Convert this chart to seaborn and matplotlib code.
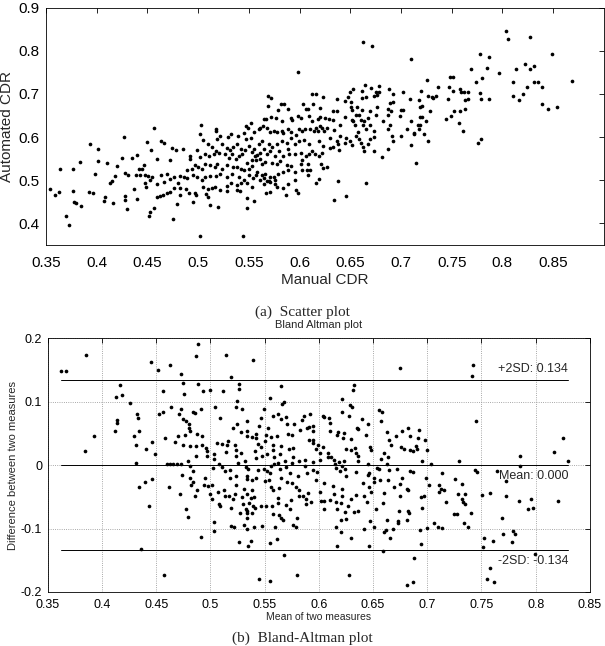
"""Scatter plot + Bland-Altman plot of manual vs automated CDR."""

import matplotlib
matplotlib.use("Agg")
import matplotlib.pyplot as plt
from matplotlib.ticker import FuncFormatter, MultipleLocator
import numpy as np
import pandas as pd
import seaborn as sns

# (manual CDR, automated CDR) pairs, grouped by region
left_pts = [
    (0.354, 0.480), (0.359, 0.466), (0.363, 0.473), (0.364, 0.526), (0.370, 0.416),
    (0.373, 0.395), (0.377, 0.527), (0.377, 0.475), (0.378, 0.449), (0.380, 0.447),
    (0.384, 0.542), (0.385, 0.439), (0.392, 0.473), (0.393, 0.584), (0.396, 0.470),
    (0.398, 0.515), (0.401, 0.573), (0.401, 0.545), (0.407, 0.452), (0.408, 0.461),
    (0.410, 0.539), (0.413, 0.493), (0.415, 0.498), (0.416, 0.447), (0.418, 0.510),
    (0.420, 0.532), (0.425, 0.552), (0.427, 0.601), (0.428, 0.517), (0.428, 0.464),
    (0.428, 0.453), (0.430, 0.433), (0.431, 0.511), (0.435, 0.552), (0.437, 0.480),
    (0.439, 0.511), (0.440, 0.559), (0.440, 0.457), (0.442, 0.526),
    # outside the scatter x-range, only visible in the Bland-Altman plot
    (0.288, 0.436), (0.293, 0.441), (0.298, 0.472),
]

core_pts = [
    (0.450, 0.588), (0.463, 0.590), (0.466, 0.586), (0.454, 0.570), (0.474, 0.575),
    (0.478, 0.570), (0.485, 0.573), (0.505, 0.593), (0.519, 0.596), (0.522, 0.603),
    (0.529, 0.601), (0.539, 0.603), (0.547, 0.596), (0.552, 0.599), (0.510, 0.584),
    (0.514, 0.576), (0.518, 0.567), (0.524, 0.583), (0.528, 0.575), (0.531, 0.569),
    (0.534, 0.578), (0.538, 0.584), (0.542, 0.573), (0.546, 0.570), (0.550, 0.580),
    (0.553, 0.565), (0.555, 0.573),
    (0.447, 0.535), (0.445, 0.527), (0.459, 0.550), (0.472, 0.546), (0.492, 0.557),
    (0.492, 0.550), (0.499, 0.569), (0.502, 0.554), (0.507, 0.561), (0.511, 0.557),
    (0.516, 0.560), (0.521, 0.563), (0.527, 0.560), (0.530, 0.552), (0.533, 0.561),
    (0.537, 0.548), (0.540, 0.555), (0.543, 0.561), (0.548, 0.540), (0.553, 0.546),
    (0.556, 0.555),
    (0.443, 0.512), (0.448, 0.512), (0.451, 0.509), (0.455, 0.508), (0.463, 0.512),
    (0.469, 0.515), (0.476, 0.508), (0.482, 0.509), (0.486, 0.508), (0.489, 0.523),
    (0.494, 0.527), (0.497, 0.535), (0.500, 0.531), (0.504, 0.525), (0.507, 0.538),
    (0.512, 0.535), (0.517, 0.531), (0.519, 0.538), (0.524, 0.527), (0.528, 0.535),
    (0.534, 0.531), (0.538, 0.531), (0.542, 0.525), (0.545, 0.523), (0.550, 0.527),
    (0.553, 0.532),
    (0.448, 0.493), (0.453, 0.500), (0.459, 0.491), (0.466, 0.496), (0.472, 0.502),
    (0.480, 0.494), (0.489, 0.504), (0.495, 0.512), (0.499, 0.508), (0.504, 0.500),
    (0.507, 0.508), (0.512, 0.509), (0.518, 0.509), (0.522, 0.514), (0.528, 0.508),
    (0.533, 0.515), (0.540, 0.508), (0.545, 0.500), (0.550, 0.512), (0.554, 0.504),
    (0.449, 0.485), (0.476, 0.483), (0.482, 0.481), (0.488, 0.479), (0.497, 0.471),
    (0.505, 0.485), (0.510, 0.479), (0.514, 0.481), (0.517, 0.485), (0.522, 0.477),
    (0.528, 0.486), (0.532, 0.493), (0.538, 0.489), (0.542, 0.493), (0.548, 0.494),
    (0.553, 0.485),
    (0.459, 0.461), (0.462, 0.464), (0.465, 0.466), (0.469, 0.470), (0.472, 0.473),
    (0.482, 0.466), (0.491, 0.471), (0.498, 0.466), (0.508, 0.468), (0.510, 0.461),
    (0.528, 0.475), (0.538, 0.477), (0.541, 0.476), (0.548, 0.458), (0.555, 0.451),
    (0.457, 0.435), (0.479, 0.445), (0.495, 0.449), (0.512, 0.443), (0.520, 0.438),
    (0.548, 0.435),
    (0.457, 0.622), (0.503, 0.627), (0.518, 0.618), (0.518, 0.614), (0.502, 0.608),
    (0.532, 0.608), (0.552, 0.632), (0.547, 0.625), (0.549, 0.620), (0.545, 0.610),
    (0.555, 0.611),
    (0.453, 0.427), (0.452, 0.417), (0.475, 0.411), (0.502, 0.370), (0.544, 0.370),
]

upper_pts = [
    (0.663, 0.821), (0.671, 0.811), (0.598, 0.751), (0.665, 0.720), (0.670, 0.713),
    (0.678, 0.718), (0.675, 0.705), (0.678, 0.704), (0.653, 0.711), (0.662, 0.707),
    (0.650, 0.704), (0.688, 0.711), (0.692, 0.699), (0.702, 0.704), (0.569, 0.695),
    (0.572, 0.691), (0.612, 0.699), (0.616, 0.700), (0.623, 0.692), (0.662, 0.690),
    (0.666, 0.692), (0.673, 0.696), (0.676, 0.698), (0.648, 0.694), (0.645, 0.684),
    (0.637, 0.689), (0.582, 0.676), (0.585, 0.677), (0.569, 0.673), (0.579, 0.663),
    (0.603, 0.676), (0.613, 0.677), (0.606, 0.665), (0.608, 0.665), (0.589, 0.666),
    (0.620, 0.667), (0.633, 0.661), (0.637, 0.660), (0.651, 0.670), (0.652, 0.662),
    (0.657, 0.670), (0.662, 0.663), (0.669, 0.661), (0.676, 0.669), (0.687, 0.666),
    (0.689, 0.679), (0.692, 0.681), (0.702, 0.663), (0.651, 0.682), (0.656, 0.652),
    (0.565, 0.642), (0.567, 0.643), (0.572, 0.646), (0.577, 0.644), (0.583, 0.637),
    (0.592, 0.644), (0.593, 0.640), (0.598, 0.648), (0.601, 0.644), (0.609, 0.650),
    (0.612, 0.638), (0.618, 0.642), (0.620, 0.647), (0.625, 0.644), (0.629, 0.643),
    (0.633, 0.640), (0.645, 0.646), (0.652, 0.640), (0.659, 0.652), (0.661, 0.640),
    (0.664, 0.637), (0.668, 0.644), (0.675, 0.652), (0.682, 0.638), (0.687, 0.652),
    (0.690, 0.660), (0.699, 0.650), (0.700, 0.663), (0.710, 0.637), (0.717, 0.629),
    (0.560, 0.619), (0.561, 0.621), (0.564, 0.625), (0.568, 0.621), (0.571, 0.611),
    (0.575, 0.614), (0.578, 0.612), (0.583, 0.615), (0.584, 0.610), (0.589, 0.618),
    (0.592, 0.611), (0.599, 0.618), (0.602, 0.614), (0.605, 0.618), (0.610, 0.618),
    (0.614, 0.615), (0.616, 0.621), (0.618, 0.614), (0.620, 0.626), (0.622, 0.620),
    (0.624, 0.615), (0.627, 0.621), (0.634, 0.617), (0.640, 0.629), (0.653, 0.637),
    (0.655, 0.627), (0.658, 0.611), (0.663, 0.629), (0.666, 0.618), (0.669, 0.627),
    (0.673, 0.615), (0.687, 0.618), (0.689, 0.629), (0.706, 0.619), (0.713, 0.610),
    (0.718, 0.618),
]

mid_pts = [
    (0.597, 0.605), (0.640, 0.603), (0.646, 0.597), (0.656, 0.603), (0.659, 0.595),
    (0.669, 0.595), (0.673, 0.600), (0.691, 0.603), (0.700, 0.602),
    (0.560, 0.585), (0.563, 0.590), (0.570, 0.583), (0.573, 0.577), (0.578, 0.585),
    (0.583, 0.591), (0.588, 0.587), (0.592, 0.597), (0.596, 0.583), (0.599, 0.591),
    (0.604, 0.593), (0.609, 0.585), (0.619, 0.591), (0.623, 0.580), (0.630, 0.597),
    (0.637, 0.591), (0.638, 0.583), (0.645, 0.587), (0.650, 0.591), (0.652, 0.582),
    (0.661, 0.587), (0.663, 0.577), (0.668, 0.583), (0.673, 0.568), (0.687, 0.572),
    (0.692, 0.591),
    (0.558, 0.559), (0.561, 0.564), (0.565, 0.572), (0.568, 0.561), (0.571, 0.568),
    (0.576, 0.555), (0.580, 0.567), (0.584, 0.557), (0.589, 0.572), (0.590, 0.561),
    (0.596, 0.561), (0.601, 0.562), (0.606, 0.557), (0.609, 0.561), (0.612, 0.568),
    (0.615, 0.561), (0.619, 0.557), (0.622, 0.564), (0.630, 0.574), (0.633, 0.576),
    (0.639, 0.570), (0.664, 0.567), (0.681, 0.553),
    (0.557, 0.547), (0.561, 0.549), (0.563, 0.538), (0.566, 0.542), (0.573, 0.539),
    (0.578, 0.538), (0.581, 0.545), (0.588, 0.536), (0.592, 0.532), (0.601, 0.538),
    (0.602, 0.547), (0.608, 0.538), (0.621, 0.538), (0.623, 0.529), (0.627, 0.530),
    (0.558, 0.519), (0.563, 0.511), (0.566, 0.515), (0.571, 0.507), (0.576, 0.501),
    (0.579, 0.515), (0.584, 0.519), (0.589, 0.524), (0.596, 0.519), (0.602, 0.524),
    (0.607, 0.524), (0.608, 0.511), (0.610, 0.524),
    (0.557, 0.511), (0.561, 0.500), (0.565, 0.506), (0.568, 0.498), (0.571, 0.496),
    (0.575, 0.507), (0.565, 0.490), (0.570, 0.497), (0.576, 0.492), (0.596, 0.500),
    (0.619, 0.503), (0.638, 0.497), (0.666, 0.493), (0.616, 0.493),
    (0.567, 0.471), (0.571, 0.473), (0.578, 0.484), (0.584, 0.483), (0.589, 0.492),
    (0.587, 0.465), (0.597, 0.478), (0.598, 0.471), (0.634, 0.455), (0.646, 0.464),
]

right_pts = [
    (0.804, 0.846), (0.806, 0.827), (0.827, 0.833), (0.778, 0.793), (0.787, 0.785),
    (0.849, 0.792), (0.710, 0.780), (0.769, 0.759), (0.785, 0.760), (0.797, 0.749),
    (0.813, 0.757), (0.822, 0.769), (0.827, 0.758), (0.831, 0.764), (0.748, 0.740),
    (0.751, 0.740), (0.726, 0.732), (0.780, 0.736), (0.774, 0.727), (0.810, 0.727),
    (0.831, 0.727), (0.835, 0.727), (0.869, 0.729), (0.720, 0.708), (0.737, 0.715),
    (0.747, 0.717), (0.751, 0.706), (0.758, 0.712), (0.759, 0.705), (0.762, 0.704),
    (0.766, 0.704), (0.778, 0.702), (0.824, 0.715), (0.839, 0.717), (0.820, 0.701),
    (0.810, 0.695), (0.816, 0.687), (0.839, 0.677), (0.845, 0.666), (0.854, 0.669),
    (0.709, 0.689), (0.718, 0.686), (0.719, 0.669), (0.721, 0.673), (0.727, 0.695),
    (0.731, 0.694), (0.732, 0.690), (0.735, 0.695), (0.746, 0.688), (0.763, 0.686),
    (0.766, 0.689), (0.779, 0.688), (0.787, 0.689), (0.729, 0.661), (0.752, 0.660),
    (0.758, 0.661), (0.763, 0.664), (0.744, 0.642), (0.749, 0.650), (0.719, 0.646),
    (0.721, 0.646), (0.725, 0.638), (0.719, 0.627), (0.757, 0.632), (0.761, 0.615),
    (0.723, 0.608), (0.727, 0.592), (0.779, 0.595), (0.710, 0.582), (0.713, 0.608),
    (0.776, 0.587), (0.715, 0.541),
]

# Bland-Altman reference lines (values printed on the chart)
ba_mean = 0.000
ba_2sd = 0.134

all_pts = left_pts + core_pts + upper_pts + mid_pts + right_pts
df = pd.DataFrame(all_pts, columns=["manual", "automated"])
df["mean"] = (df["manual"] + df["automated"]) / 2
df["diff"] = df["automated"] - df["manual"]

sns.set_style("white")
plt.rcParams["font.family"] = ["Liberation Sans", "DejaVu Sans"]
plt.rcParams["axes.linewidth"] = 0.6
plt.rcParams["axes.edgecolor"] = "black"

fmt = FuncFormatter(lambda v, _: f"{v:g}")
serif = ["Liberation Serif", "DejaVu Serif"]


def matlab_ticks(ax, size, pad):
    ax.tick_params(direction="in", top=True, right=True, length=3.5, width=0.6,
                   labelsize=size, colors="black", pad=pad)
    ax.xaxis.set_major_formatter(fmt)
    ax.yaxis.set_major_formatter(fmt)


fig = plt.figure(figsize=(6.05, 6.46), dpi=100)

# ---------- (a) scatter ----------
ax1 = fig.add_axes([0.076, 0.621, 0.922, 0.367])
sns.scatterplot(data=df, x="manual", y="automated", ax=ax1, color="black",
                s=7, linewidth=0, legend=False)
ax1.set_xlim(0.35, 0.9)
ax1.set_ylim(0.35, 0.9)
ax1.set_xticks(np.arange(0.35, 0.851, 0.05))
ax1.set_yticks(np.arange(0.4, 0.901, 0.1))
matlab_ticks(ax1, 11, 5)
ax1.tick_params(axis="x", pad=8)
ax1.set_xlabel("Manual CDR", fontsize=11, labelpad=2.5)
ax1.set_ylabel("Automated CDR", fontsize=11, labelpad=3)
fig.text(0.5, 0.517, "(a)  Scatter plot", ha="center", va="center",
         fontsize=11, family=serif)

# ---------- (b) Bland-Altman ----------
ax2 = fig.add_axes([0.079, 0.0836, 0.896, 0.393])
x_lo, x_hi = df["mean"].min(), df["mean"].max()
ax2.grid(True, linestyle=":", color="0.55", linewidth=0.6)
ax2.set_axisbelow(True)
sns.scatterplot(data=df, x="mean", y="diff", ax=ax2, color="black",
                s=7, linewidth=0, legend=False)
for yv in (ba_2sd, ba_mean, -ba_2sd):
    ax2.plot([x_lo, x_hi], [yv, yv], color="black", linewidth=0.7)
ax2.text(x_hi, ba_2sd + 0.008, f"+2SD: {ba_2sd:.3f}", ha="right", va="bottom", fontsize=9)
ax2.text(x_hi, ba_mean - 0.008, f"Mean: {ba_mean:.3f}", ha="right", va="top", fontsize=9)
ax2.text(x_hi, -ba_2sd - 0.008, f"-2SD: {-ba_2sd:.3f}", ha="right", va="top", fontsize=9)
ax2.set_xlim(0.35, 0.85)
ax2.set_ylim(-0.2, 0.2)
ax2.xaxis.set_major_locator(MultipleLocator(0.05))
ax2.yaxis.set_major_locator(MultipleLocator(0.1))
matlab_ticks(ax2, 9, 4)
ax2.tick_params(axis="x", pad=5)
ax2.set_xlabel("Mean of two measures", fontsize=7.5, labelpad=1)
ax2.set_ylabel("Difference between two measures", fontsize=8, labelpad=2)
ax2.set_title("Bland Altman plot", fontsize=8, pad=7)
fig.text(0.5, 0.0125, "(b)  Bland-Altman plot", ha="center", va="center",
         fontsize=11, family=serif)

fig.savefig("out.png", dpi=100)
